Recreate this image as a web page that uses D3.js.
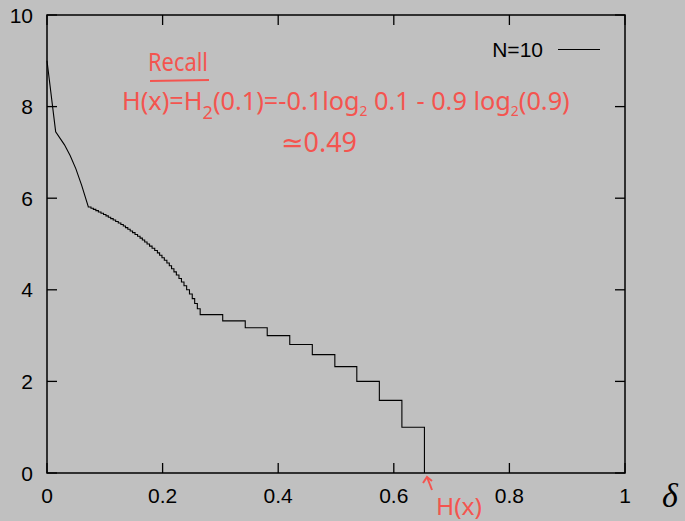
<!DOCTYPE html>
<html>
<head>
<meta charset="utf-8">
<script src="https://cdn.jsdelivr.net/npm/d3@7"></script>
<style>
  html, body { margin: 0; padding: 0; background: #c0c0c0; }
  svg { display: block; }
</style>
</head>
<body>
<div id="chart"></div>
<script>
// Chart size
const width = 685;
const height = 521;

// Axis ticks
const xTicks = [0, 0.2, 0.4, 0.6, 0.8, 1];
const xTickLabels = ["0", "0.2", "0.4", "0.6", "0.8", "1"];
const yTicks = [0, 2, 4, 6, 8, 10];
const yTickLabels = ["0", "2", "4", "6", "8", "10"];

// Smooth head of the N=10 curve
const headDelta = [0, 0.015, 0.03, 0.04, 0.05, 0.06, 0.0715];
const headValue = [9.0, 7.45, 7.17, 6.93, 6.64, 6.28, 5.81];

// Staircase part: each step starts at stepStart[i] with level stepLevel[i]
const stepStart = [0.0715, 0.0761, 0.0802, 0.0845, 0.0889, 0.0934, 0.0978, 0.1020,
  0.1061, 0.1102, 0.1145, 0.1188, 0.1233, 0.1278, 0.1320, 0.1358, 0.1398, 0.1439,
  0.1480, 0.1523, 0.1567, 0.1610, 0.1650, 0.1690, 0.1731, 0.1774, 0.1818, 0.1864,
  0.1910, 0.1948, 0.1989, 0.2030, 0.2074, 0.2116, 0.2155, 0.2196, 0.2238, 0.2283,
  0.2326, 0.2370, 0.2416, 0.2465, 0.2513, 0.2555, 0.2601, 0.2650,
  0.304, 0.343, 0.381, 0.420, 0.459, 0.498, 0.536, 0.575, 0.614, 0.653];
const stepLevel = [5.807, 5.781, 5.755, 5.728, 5.700, 5.672, 5.644, 5.615,
  5.585, 5.555, 5.524, 5.492, 5.459, 5.426, 5.392, 5.358, 5.322, 5.285,
  5.248, 5.209, 5.170, 5.129, 5.087, 5.044, 5.000, 4.954, 4.907, 4.858,
  4.807, 4.755, 4.700, 4.644, 4.585, 4.524, 4.459, 4.392, 4.322, 4.248,
  4.170, 4.087, 4.000, 3.907, 3.807, 3.700, 3.585, 3.459,
  3.322, 3.170, 3.000, 2.807, 2.585, 2.322, 2.000, 1.585, 1.000, 0];

const seriesName = "N=10";
const red = "#f4544f";

const svg = d3.select("#chart")
  .append("svg")
  .attr("width", width)
  .attr("height", height);

svg.append("rect")
  .attr("width", width)
  .attr("height", height)
  .attr("fill", "#c0c0c0");

// Scales
const x = d3.scaleLinear().domain([0, 1]).range([47, 625]);
const y = d3.scaleLinear().domain([0, 10]).range([473, 15]);

const tickLen = 10;
const axisFont = "'Liberation Sans', Arial, sans-serif";

// Ticks on all four sides (inward)
const ticks = svg.append("g").attr("stroke", "#000").attr("stroke-width", 1.3);
xTicks.forEach(t => {
  ticks.append("line").attr("x1", x(t)).attr("x2", x(t)).attr("y1", y(0)).attr("y2", y(0) - tickLen);
  ticks.append("line").attr("x1", x(t)).attr("x2", x(t)).attr("y1", y(10)).attr("y2", y(10) + tickLen);
});
yTicks.forEach(t => {
  ticks.append("line").attr("x1", x(0)).attr("x2", x(0) + tickLen).attr("y1", y(t)).attr("y2", y(t));
  ticks.append("line").attr("x1", x(1)).attr("x2", x(1) - tickLen).attr("y1", y(t)).attr("y2", y(t));
});

// Tick labels
svg.append("g").selectAll("text")
  .data(xTicks)
  .enter()
  .append("text")
  .attr("x", d => x(d))
  .attr("y", 503)
  .attr("text-anchor", "middle")
  .style("font-family", axisFont)
  .style("font-size", "21px")
  .text((d, i) => xTickLabels[i]);

svg.append("g").selectAll("text")
  .data(yTicks)
  .enter()
  .append("text")
  .attr("x", 33)
  .attr("y", d => y(d) + 7.5)
  .attr("text-anchor", "end")
  .style("font-family", axisFont)
  .style("font-size", "21px")
  .text((d, i) => yTickLabels[i]);

// delta label
svg.append("text")
  .attr("x", 662)
  .attr("y", 507)
  .style("font-family", "'Liberation Serif', 'DejaVu Serif', serif")
  .style("font-style", "italic")
  .style("font-size", "34px")
  .text("δ");

// Curve points: head, then staircase corners
const points = headDelta.map((d, i) => [d, headValue[i]]);
stepStart.forEach((s, i) => {
  points.push([s, stepLevel[i]]);
  if (i + 1 < stepStart.length) points.push([stepStart[i + 1], stepLevel[i]]);
});

const line = d3.line()
  .x(d => x(d[0]))
  .y(d => y(d[1]));

svg.append("path")
  .datum(points)
  .attr("fill", "none")
  .attr("stroke", "#000")
  .attr("stroke-width", 1.1)
  .attr("d", line);

// Frame
svg.append("rect")
  .attr("x", x(0))
  .attr("y", y(10))
  .attr("width", x(1) - x(0))
  .attr("height", y(0) - y(10))
  .attr("fill", "none")
  .attr("stroke", "#000")
  .attr("stroke-width", 1.5);

// Legend
svg.append("text")
  .attr("x", 543)
  .attr("y", 57)
  .attr("text-anchor", "end")
  .style("font-family", axisFont)
  .style("font-size", "21px")
  .text(seriesName);
svg.append("line")
  .attr("x1", 558).attr("x2", 600)
  .attr("y1", 49.5).attr("y2", 49.5)
  .attr("stroke", "#000")
  .attr("stroke-width", 1);

// Handwritten notes
const noteFont = "'Noto Sans', 'DejaVu Sans', sans-serif";
const notes = svg.append("g").attr("fill", red).style("font-family", noteFont);

notes.append("text")
  .attr("x", 148).attr("y", 71)
  .attr("textLength", 60).attr("lengthAdjust", "spacingAndGlyphs")
  .style("font-size", "25px")
  .text("Recall");
svg.append("line")
  .attr("x1", 150).attr("y1", 81).attr("x2", 209).attr("y2", 80)
  .attr("stroke", red).attr("stroke-width", 2);

// Formula: size the font so the whole line spans about 448px
const formula = notes.append("text")
  .attr("x", 122).attr("y", 110);
formula.append("tspan").text("H(x)=H");
formula.append("tspan").attr("class", "sub big").attr("dy", 9).text("2");
formula.append("tspan").attr("dy", -9).text("(0.1)=-0.1log");
formula.append("tspan").attr("class", "sub").attr("dy", 6).text("2");
formula.append("tspan").attr("dy", -6).text(" 0.1 - 0.9 log");
formula.append("tspan").attr("class", "sub").attr("dy", 6).text("2");
formula.append("tspan").attr("dy", -6).text("(0.9)");

function sizeFormula(fs) {
  formula.style("font-size", fs + "px");
  formula.selectAll("tspan.sub").style("font-size", (fs * 0.55) + "px");
  formula.selectAll("tspan.big").style("font-size", (fs * 0.72) + "px");
}
sizeFormula(29);
const natural = formula.node().getComputedTextLength();
sizeFormula(Math.min(34, 29 * 448 / natural));

notes.append("text")
  .attr("x", 281).attr("y", 152)
  .attr("textLength", 76).attr("lengthAdjust", "spacingAndGlyphs")
  .style("font-size", "27px")
  .text("≃0.49");

// Arrow to H(x) on the axis
const arrow = svg.append("g").attr("stroke", red).attr("stroke-width", 2).attr("fill", "none");
arrow.append("line").attr("x1", 432).attr("y1", 490).attr("x2", 427).attr("y2", 477);
arrow.append("polyline").attr("points", "423,483 427,477 432,481");

notes.append("text")
  .attr("x", 436).attr("y", 515)
  .attr("textLength", 46).attr("lengthAdjust", "spacingAndGlyphs")
  .style("font-size", "23px")
  .text("H(x)");
</script>
</body>
</html>
